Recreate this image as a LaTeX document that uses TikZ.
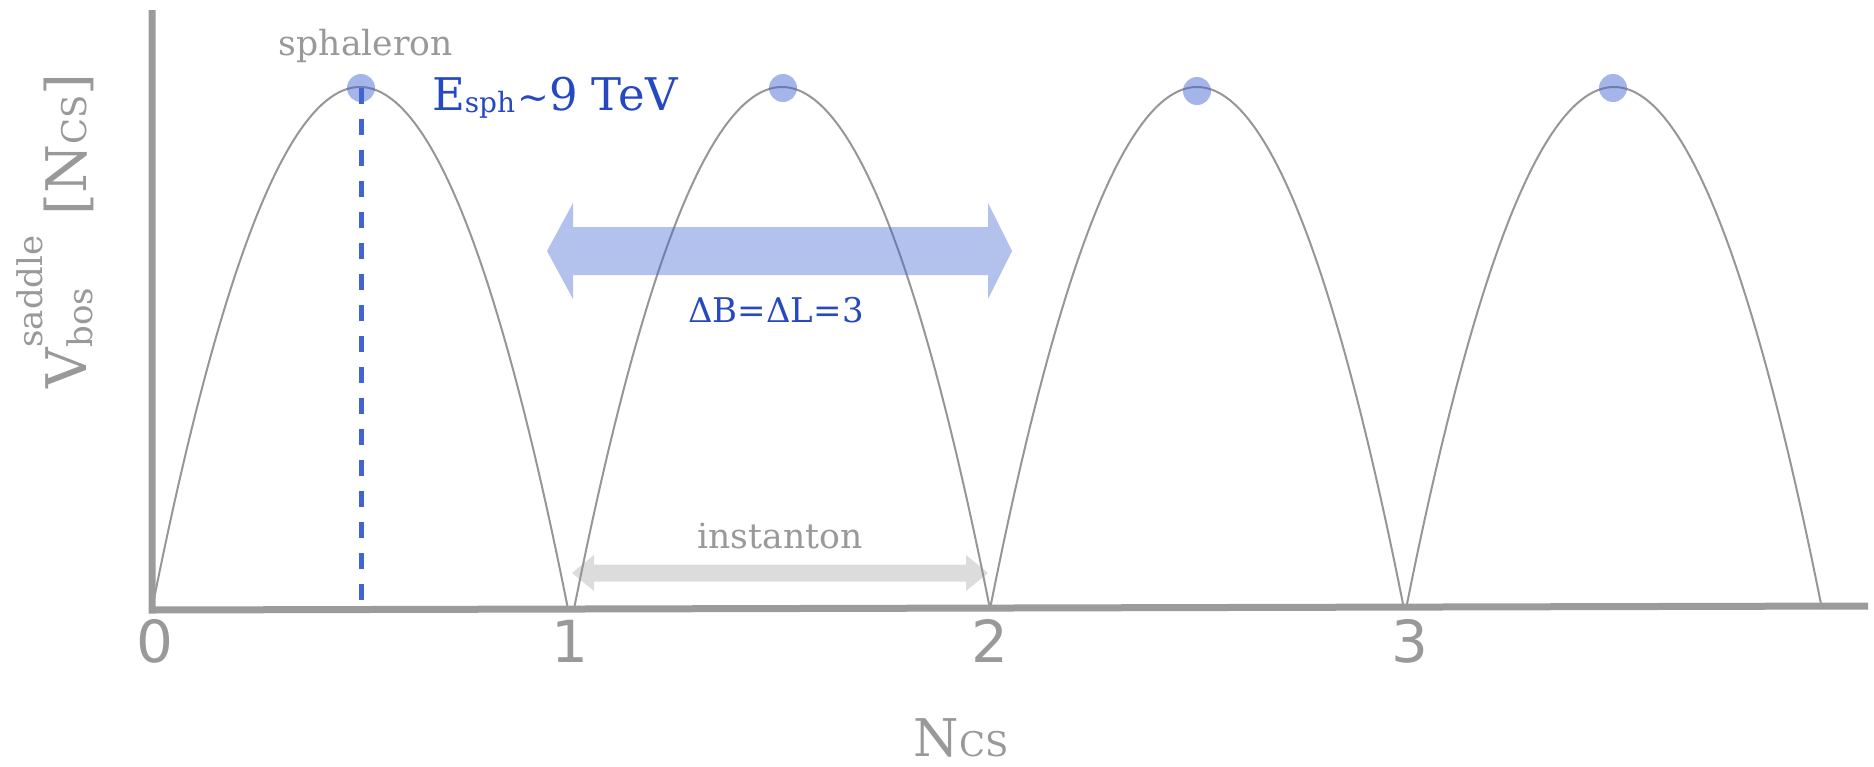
\documentclass[tikz,border=0pt]{standalone}
\usepackage{fontspec}
\setmainfont{DejaVu Serif}
\newfontfamily\ticksans{DejaVu Sans}
\definecolor{txtgrey}{RGB}{153,153,153}
\definecolor{axisgrey}{RGB}{155,155,155}
\definecolor{curvegrey}{RGB}{150,150,150}
\definecolor{instgrey}{RGB}{220,220,220}
\definecolor{txtblue}{RGB}{38,72,192}
\definecolor{dashblue}{RGB}{66,99,210}
\begin{document}
\begin{tikzpicture}[x=0.5pt,y=-0.5pt,
  lbl/.style={inner sep=0pt, outer sep=0pt},
  arch/.style={draw=curvegrey, line width=1pt},
  axisline/.style={draw=axisgrey, line width=3.5pt, line join=miter},
  peakdot/.style={fill=dashblue, fill opacity=0.48},
  dashline/.style={draw=dashblue, line width=2.5pt, dash pattern=on 8pt off 7.5pt},
  bigarrow/.style={fill=dashblue, fill opacity=0.40},
  smallarrow/.style={fill=instgrey},
  ticklbl/.style={lbl, anchor=base, text=txtgrey, font=\ticksans\fontsize{29}{34}\selectfont},
  ]
\useasboundingbox (0,0) rectangle (1874,766);
% instanton arrow
\fill[smallarrow] (572,573) -- (594,555) -- (594,564.5) -- (966,564.5) -- (966,555) -- (988,573)
  -- (966,591) -- (966,581.5) -- (594,581.5) -- (594,591) -- cycle;
% arches (parabolas)
\foreach \a/\b in {152/568, 574/990, 990/1404, 1406/1822} {
  \draw[arch] (\a,609) .. controls ({\a+(\b-\a)/3},-87) and ({\b-(\b-\a)/3},-87) .. (\b,609);
}
% axes
\coordinate (ytop) at (152,10);
\coordinate (orig) at (152,610);
\coordinate (xend) at (1868,606);
\draw[axisline] (ytop) -- (orig) -- (xend);
% dashed line and peaks
\coordinate (p1) at (361,88);
\coordinate (p1b) at (361,604);
\draw[dashline] (p1) -- (p1b);
\fill[peakdot] (p1) circle[radius=7pt];
\fill[peakdot] (783,88) circle[radius=7pt];
\fill[peakdot] (1197,91) circle[radius=7pt];
\fill[peakdot] (1613,88) circle[radius=7pt];
% big blue double arrow
\fill[bigarrow] (547,251) -- (573,203) -- (573,227) -- (988,227) -- (988,203) -- (1012,251)
  -- (988,299) -- (988,275) -- (573,275) -- (573,299) -- cycle;
% labels
\node[lbl, anchor=base, text=txtgrey, font=\fontsize{17.3}{20}\selectfont] (sphlbl) at (366,55) {sphaleron};
\node[lbl, anchor=base west, text=txtblue] (esph) at (432,110)
  {\fontsize{22.5}{27}\selectfont E\raisebox{-1pt}{\fontsize{14}{18}\selectfont sph}\kern1pt{\fontsize{19}{20}\selectfont\textasciitilde}9 TeV};
\node[lbl, anchor=base, text=txtblue, font=\fontsize{17}{20}\selectfont] (dbl) at (776,322) {ΔB=ΔL=3};
\node[lbl, anchor=base, text=txtgrey, font=\fontsize{17.3}{20}\selectfont] (inst) at (780,548) {instanton};
\node[ticklbl] (t0) at (155,662) {0};
\node[ticklbl] (t1) at (570,662) {1};
\node[ticklbl] (t2) at (990,662) {2};
\node[ticklbl] (t3) at (1410,662) {3};
\node[lbl, anchor=base, text=txtgrey] (xlbl) at (961,756)
  {\fontsize{26}{30}\selectfont N{\fontsize{17}{20}\selectfont CS}};
\node[lbl, anchor=base west, rotate=90, text=txtgrey] (ylbl) at (86,388)
  {\fontsize{28}{32}\selectfont V\rlap{\raisebox{-3pt}{\fontsize{17}{20}\selectfont bos}}\raisebox{22pt}{\fontsize{17}{20}\selectfont saddle}\hspace{10pt}[N{\fontsize{17}{20}\selectfont CS}]};
\end{tikzpicture}
\end{document}
